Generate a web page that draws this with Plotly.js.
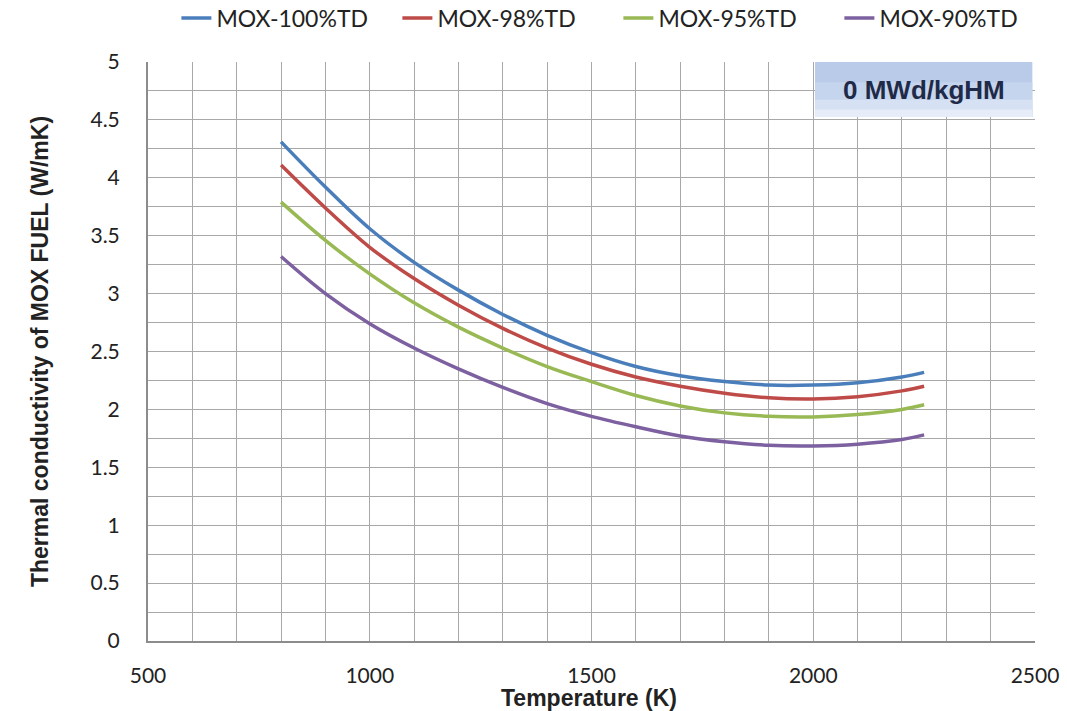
<!DOCTYPE html>
<html>
<head>
<meta charset="utf-8">
<script src="https://cdn.plot.ly/plotly-3.0.1.min.js"></script>
<style>html,body{margin:0;padding:0;background:#fff;}#chart{width:1067px;height:711px;}</style>
</head>
<body>
<div id="chart"></div>
<script>
const temperature = [800, 900, 1000, 1100, 1200, 1300, 1400, 1500, 1600, 1700, 1800, 1900, 2000, 2100, 2200, 2250];
const mox100 = [4.31, 3.92, 3.56, 3.27, 3.03, 2.82, 2.64, 2.49, 2.37, 2.29, 2.24, 2.21, 2.21, 2.23, 2.28, 2.32];
const mox98  = [4.11, 3.74, 3.40, 3.13, 2.90, 2.70, 2.53, 2.39, 2.28, 2.20, 2.14, 2.10, 2.09, 2.11, 2.16, 2.20];
const mox95  = [3.79, 3.46, 3.17, 2.92, 2.71, 2.53, 2.37, 2.24, 2.12, 2.03, 1.97, 1.94, 1.935, 1.955, 2.00, 2.04];
const mox90  = [3.32, 3.00, 2.74, 2.53, 2.35, 2.19, 2.05, 1.94, 1.85, 1.77, 1.72, 1.69, 1.685, 1.70, 1.74, 1.78];
const seriesNames = ["MOX-100%TD", "MOX-98%TD", "MOX-95%TD", "MOX-90%TD"];
const seriesColors = ["#4a7ebb", "#be4b48", "#98b954", "#7d60a0"];
const burnupLabel = "0 MWd/kgHM";
const xTitle = "Temperature (K)";
const yTitle = "Thermal conductivity of MOX FUEL (W/mK)";

const allSeries = [mox100, mox98, mox95, mox90];
const traces = allSeries.map((ys, i) => ({
  x: temperature, y: ys, type: "scatter", mode: "lines",
  name: seriesNames[i],
  line: {color: seriesColors[i], width: 3.5, shape: "spline", smoothing: 1}
}));

const gridColor = "#a8a8a8";
const boldFont = "'Liberation Sans', Arial, sans-serif";
const layout = {
  width: 1067, height: 711,
  margin: {l: 148, r: 32, t: 62, b: 70, autoexpand: false},
  paper_bgcolor: "#ffffff", plot_bgcolor: "#ffffff",
  font: {family: "Lato, 'Open Sans', sans-serif", size: 21, color: "#222"},
  showlegend: true,
  legend: {orientation: "h", x: 0.032, xanchor: "left", y: 1.076, yanchor: "middle",
    font: {size: 23, family: "Lato, sans-serif", color: "#222"}, entrywidth: 176, entrywidthmode: "pixels",
    bgcolor: "rgba(0,0,0,0)"},
  xaxis: {
    range: [500, 2500], dtick: 500, tick0: 500,
    showgrid: true, gridcolor: gridColor, gridwidth: 1,
    minor: {dtick: 100, showgrid: true, gridcolor: gridColor, gridwidth: 1},
    showline: true, linecolor: "#8c8c8c", linewidth: 2, zeroline: false,
    ticks: "", ticklabelstandoff: 15,
    tickfont: {size: 21, color: "#222"}
  },
  yaxis: {
    range: [0, 5], dtick: 0.5, tick0: 0,
    showgrid: true, gridcolor: gridColor, gridwidth: 1,
    minor: {dtick: 0.25, showgrid: true, gridcolor: gridColor, gridwidth: 1},
    showline: true, linecolor: "#8c8c8c", linewidth: 2, zeroline: false,
    ticks: "", ticklabelstandoff: 22,
    tickfont: {size: 21, color: "#222"},
    title: {text: "<b>" + yTitle + "</b>", font: {size: 23, family: boldFont, color: "#222"}, standoff: 35}
  },
  shapes: [
    {type: "rect", xref: "paper", yref: "paper", x0: 0.752, x1: 0.997, y0: 0.905, y1: 1.0, fillcolor: "#b9cbe9", line: {width: 0}, layer: "above"},
    {type: "rect", xref: "paper", yref: "paper", x0: 0.752, x1: 0.997, y0: 0.905, y1: 0.965, fillcolor: "#c6d5ee", line: {width: 0}, layer: "above"},
    {type: "rect", xref: "paper", yref: "paper", x0: 0.752, x1: 0.997, y0: 0.905, y1: 0.935, fillcolor: "#d6e1f4", line: {width: 0}, layer: "above"},
    {type: "rect", xref: "paper", yref: "paper", x0: 0.752, x1: 0.997, y0: 0.905, y1: 0.918, fillcolor: "#e6ecf8", line: {width: 0}, layer: "above"}
  ],
  annotations: [
    {xref: "paper", yref: "paper", x: 0.8745, y: 0.9525, xanchor: "center", yanchor: "middle",
     text: "<b>" + burnupLabel + "</b>", showarrow: false,
     font: {size: 26, family: boldFont, color: "#1f2a48"}},
    {xref: "paper", yref: "paper", x: 0.497, y: -0.098, xanchor: "center", yanchor: "middle",
     text: "<b>" + xTitle + "</b>", showarrow: false,
     font: {size: 23, family: boldFont, color: "#222"}}
  ]
};

Plotly.newPlot("chart", traces, layout, {displayModeBar: false, staticPlot: true});
</script>
</body>
</html>
